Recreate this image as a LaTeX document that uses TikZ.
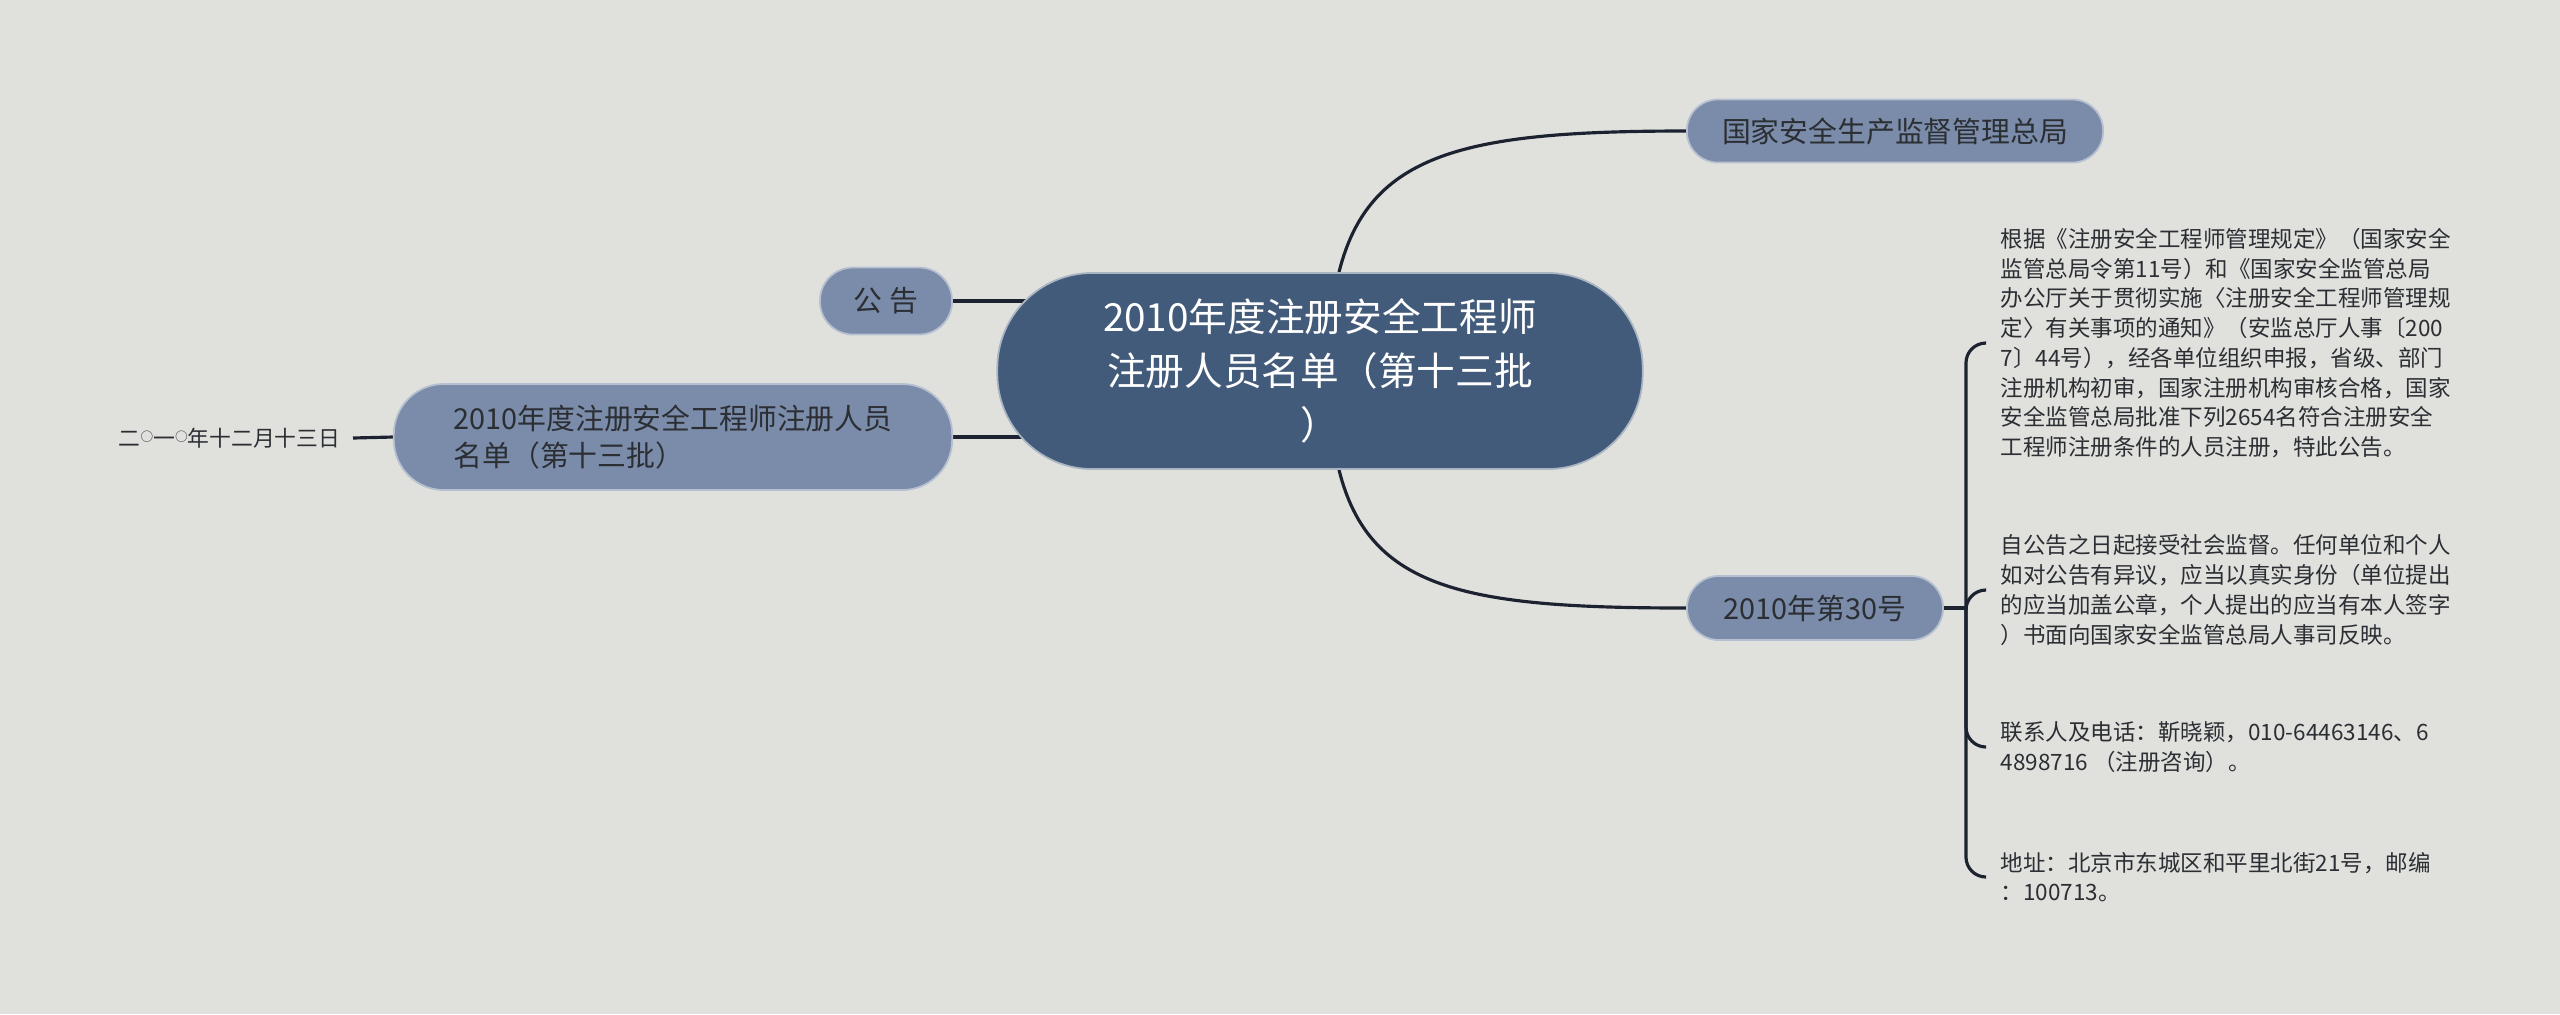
\documentclass[tikz,border=0pt]{standalone}
\usepackage{fontspec}
\setmainfont{Noto Sans CJK SC}
\usepackage{tikz}
\usetikzlibrary{backgrounds}

\definecolor{bgc}{HTML}{E0E1DD}
\definecolor{rootc}{HTML}{435B7A}
\definecolor{subc}{HTML}{7A8CA9}
\definecolor{linec}{HTML}{1C2230}
\definecolor{txtc}{HTML}{2B2E33}

\newcommand{\lingo}{\raisebox{0.22em}{\fontsize{3.6}{4}\selectfont ○}}

\begin{document}
\begin{tikzpicture}[x=0.01cm, y=-0.01cm,
  rootbox/.style={fill=rootc, draw=white!55!rootc, line width=0.5pt, text=white,
    font=\fontsize{11}{15.4}\selectfont, align=center, inner sep=0pt,
    minimum width=6.45cm, minimum height=1.96cm, rounded corners=0.95cm},
  subbox/.style={fill=subc, draw=white!45!subc, line width=0.5pt, text=txtc,
    font=\fontsize{8.2}{10.7}\selectfont, align=left, inner sep=0pt},
  itemtxt/.style={text=txtc, font=\fontsize{6.4}{8.45}\selectfont, align=left, inner sep=0pt},
  datetxt/.style={text=txtc, font=\fontsize{6.2}{8}\selectfont, inner sep=0pt},
  link/.style={draw=linec, line width=0.9pt}]
  \useasboundingbox (0,0) rectangle (2560,1014);

  % Main topic
  \node[rootbox] (root) at (1320,371) {2010年度注册安全工程师\\注册人员名单（第十三批\\）};

  % Branches
  \node[subbox, minimum width=4.16cm, minimum height=0.63cm, rounded corners=0.31cm]
    (ju) at (1895,131) {国家安全生产监督管理总局};
  \node[subbox, minimum width=2.56cm, minimum height=0.64cm, rounded corners=0.32cm]
    (hao) at (1815,608) {2010年第30号};
  \node[subbox, minimum width=1.32cm, minimum height=0.67cm, rounded corners=0.33cm]
    (gg) at (886,301) {公 告};
  \node[subbox, minimum width=5.58cm, minimum height=1.06cm, rounded corners=0.5cm]
    (mingdan) at (673,437) {2010年度注册安全工程师注册人员\\名单（第十三批）};
  \node[datetxt, anchor=east] (riqi) at (341,438) {二\lingo 一\lingo 年十二月十三日};

  % Notice text
  \coordinate (sp) at ([xshift=0.22cm]hao.east);
  \node[itemtxt, anchor=west] (yiju) at (2000,343)
    {根据《注册安全工程师管理规定》（国家安全\\
     监管总局令第11号）和《国家安全监管总局\\
     办公厅关于贯彻实施〈注册安全工程师管理规\\
     定〉有关事项的通知》（安监总厅人事〔200\\
     7〕44号），经各单位组织申报，省级、部门\\
     注册机构初审，国家注册机构审核合格，国家\\
     安全监管总局批准下列2654名符合注册安全\\
     工程师注册条件的人员注册，特此公告。};
  \node[itemtxt, anchor=west] (jiandu) at (2000,590)
    {自公告之日起接受社会监督。任何单位和个人\\
     如对公告有异议，应当以真实身份（单位提出\\
     的应当加盖公章，个人提出的应当有本人签字\\
     ）书面向国家安全监管总局人事司反映。};
  \node[itemtxt, anchor=west] (lianxi) at (2000,747)
    {联系人及电话：靳晓颖，010-64463146、6\\
     4898716 （注册咨询）。};
  \node[itemtxt, anchor=west] (dizhi) at (2000,877)
    {地址：北京市东城区和平里北街21号，邮编\\
     ：100713。};

  % Connectors
  \begin{scope}[on background layer]
    \fill[bgc] (0,0) rectangle (2560,1014);
    \draw[link] ([xshift=0.19cm]root.north) .. controls +(30,-120) and +(-220,0) .. (ju.west);
    \draw[link] ([xshift=0.19cm]root.south) .. controls +(30,120) and +(-220,0) .. (hao.west);
    \draw[link] (gg.east) -- (gg.east -| root.center);
    \draw[link] (mingdan.east) -- (mingdan.east -| root.center);
    \draw[link] ([xshift=0.12cm]riqi.east) -- (mingdan.west);
    \draw[link] (hao.east) -- (sp);
    \foreach \it in {yiju,jiandu,lianxi,dizhi}
      \draw[link, rounded corners=0.2cm] (sp) |- ([xshift=-0.15cm]\it.west);
  \end{scope}
\end{tikzpicture}
\end{document}
